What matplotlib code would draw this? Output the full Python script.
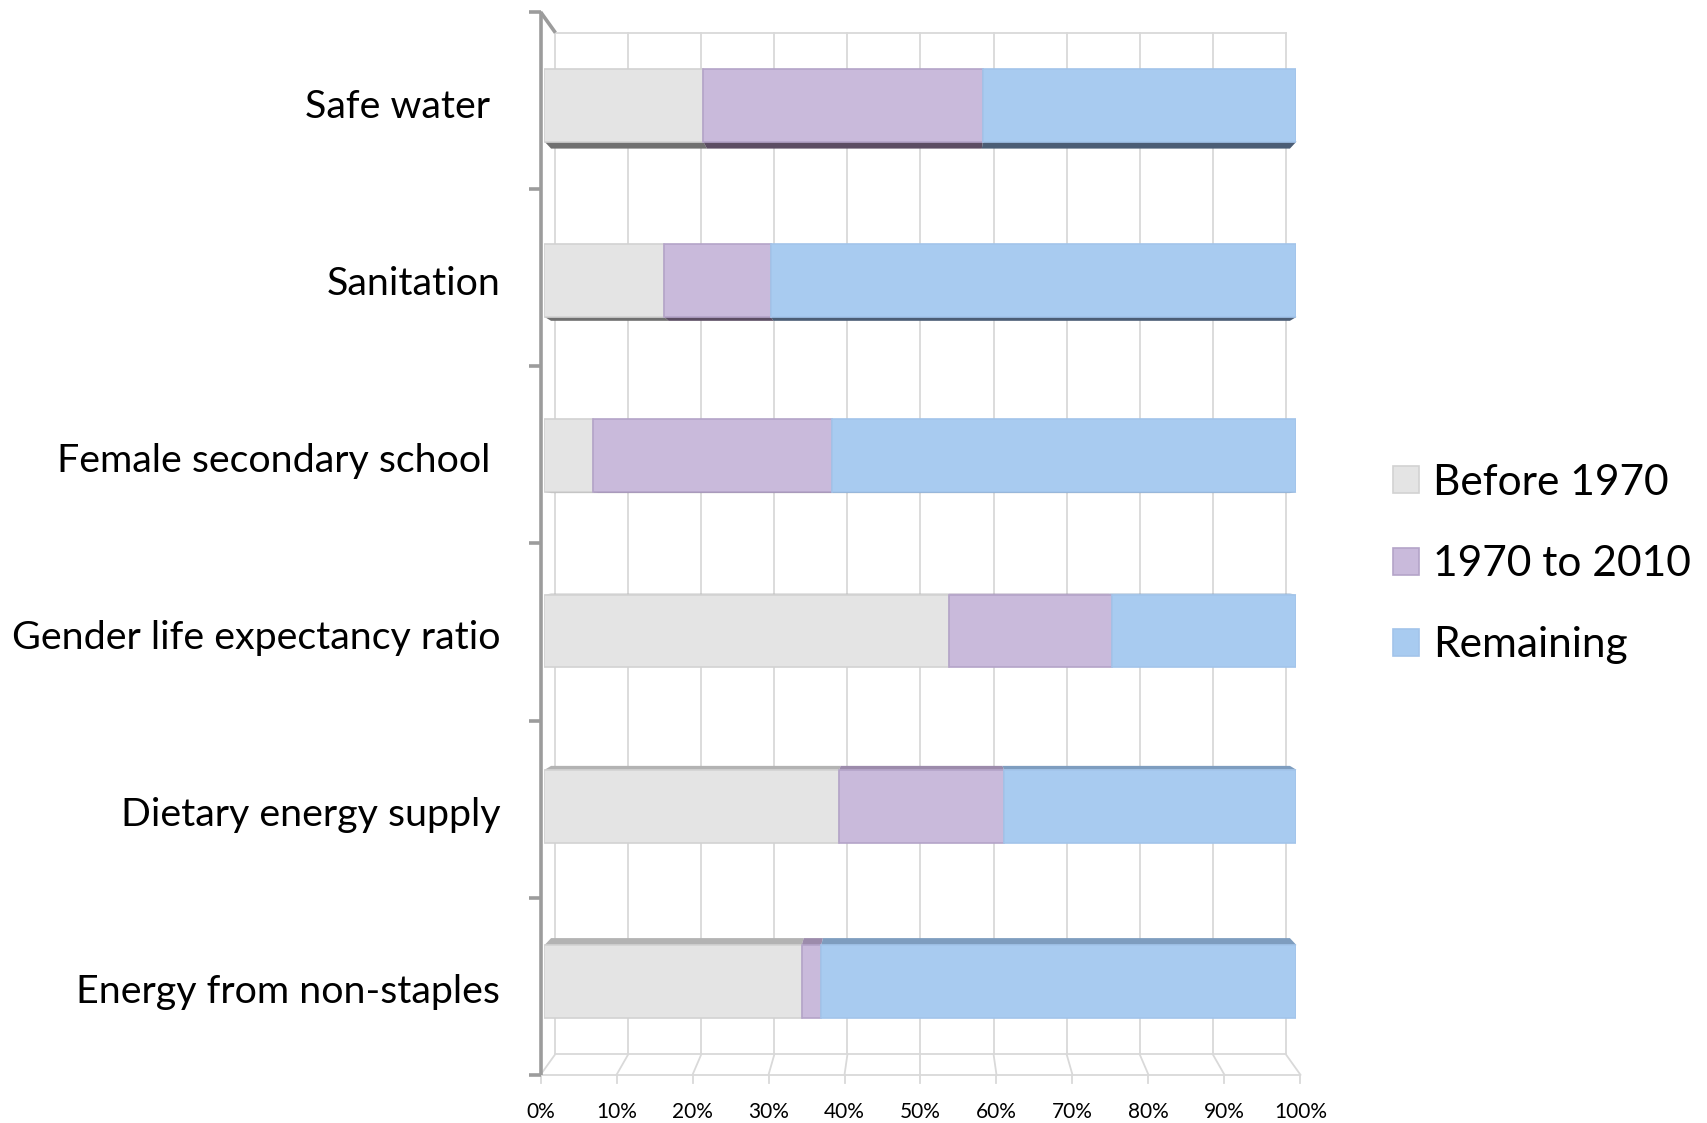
import matplotlib
matplotlib.use("Agg")
import matplotlib.pyplot as plt
from matplotlib.patches import Polygon
import numpy as np

# progress on each indicator, in percent of the full range
categories = ["Safe water ", "Sanitation", "Female secondary school ",
              "Gender life expectancy ratio", "Dietary energy supply",
              "Energy from non-staples"]
before_1970 = [21.1, 15.9, 6.4, 53.8, 39.2, 34.2]
from_1970_to_2010 = [37.2, 14.2, 31.8, 21.7, 21.9, 2.6]
remaining = [41.7, 69.9, 61.8, 24.5, 38.9, 63.2]
series_names = ["Before 1970", "1970 to 2010", "Remaining"]
xtick_values = list(range(0, 101, 10))

face_colors = ["#e4e4e4", "#c9badb", "#a8cbf0"]
edge_colors = ["#d2d2d2", "#b4a4c8", "#a2c4ea"]
under_colors = ["#707070", "#5c4d63", "#4b5d75"]   # bar bottoms seen from below
top_colors = ["#b3b3b3", "#9c8bab", "#7e9dbf"]     # bar tops seen from above

W, H = 1708, 1123
fig = plt.figure(figsize=(W / 100, H / 100), dpi=100)
plt.rcParams["font.family"] = ["Lato", "DejaVu Sans"]

# pixel layout of the front plane of the bars
x0_px, x100_px = 544.5, 1296.5
row0_px, row_step = 105.1, 175.3
ax = fig.add_axes([x0_px / W, 0, (x100_px - x0_px) / W, 1])
ax.set_xlim(0, 100)
ax.set_ylim((H - row0_px) / row_step, -row0_px / row_step)
ax.axis("off")

# simple perspective: depth scale s shrinks everything towards the centre
CX, CY = 50.0, 2.5
S_FRONT, S_BACK, S_BAR_BACK = 1.0106, 0.971, 0.9825


def proj(x, y, s):
    return CX + (np.asarray(x, float) - CX) * s, CY + (np.asarray(y, float) - CY) * s


n = len(categories)
ypos = np.arange(n)
bar_h = 0.416
y_top, y_bot = -0.5, n - 0.5

# back wall gridlines and floor
grid_kw = dict(color="#d9d9d9", lw=1.3, clip_on=False, zorder=0)
for xv in xtick_values:
    gx, gy = proj([xv, xv], [y_top, y_bot], S_BACK)
    ax.plot(gx, gy, **grid_kw)
    fx, fy = proj([xv, xv], [y_bot, y_bot], [S_BACK, S_FRONT])
    ax.plot(fx, fy, **grid_kw)
    tx, ty = proj(xv, y_bot, S_FRONT)
    ax.plot([tx, tx], [ty, ty + 0.045], **grid_kw)
    ax.text(tx, ty + 0.21, f"{xv}%", ha="center", va="center", fontsize=15)
for yv in (y_top, y_bot):
    bx, by = proj([0, 100], [yv, yv], S_BACK)
    ax.plot(bx, by, **grid_kw)
fx, fy = proj([0, 100], [y_bot, y_bot], S_FRONT)
ax.plot(fx, fy, **grid_kw)

# left axis with category dividers
axis_kw = dict(color="#9c9c9c", lw=2.6, clip_on=False, zorder=1, solid_capstyle="butt")
lx, ly = proj([0, 0], [y_top, y_bot], S_FRONT)
ax.plot(lx, ly, **axis_kw)
dx, dy = proj([0, 0], [y_top, y_top], [S_FRONT, S_BACK])
ax.plot(dx, dy, **axis_kw)
for b in np.arange(n + 1) - 0.5:
    px, py = proj(0, b, S_FRONT)
    ax.plot([px - 1.5, px], [py, py], **axis_kw)

# stacked bars
series = [before_1970, from_1970_to_2010, remaining]
lefts = np.zeros(n)
handles = []
for vals, name, fc, ec, uc, tc in zip(series, series_names, face_colors,
                                      edge_colors, under_colors, top_colors):
    vals = np.asarray(vals, float)
    bars = ax.barh(ypos, vals, left=lefts, height=bar_h, color=fc, edgecolor=ec,
                   linewidth=1.2, label=name, zorder=3)
    handles.append(bars)
    # visible depth face of each segment
    for i in range(n):
        a, b = lefts[i], lefts[i] + vals[i]
        if i < CY:
            ye, col = ypos[i] + bar_h / 2, uc
        else:
            ye, col = ypos[i] - bar_h / 2, tc
        bx, by = proj([b, a], [ye, ye], S_BAR_BACK)
        poly = Polygon([(a, ye), (b, ye), (bx[0], by[0]), (bx[1], by[1])],
                       closed=True, facecolor=col, edgecolor="none",
                       zorder=2, clip_on=False)
        ax.add_patch(poly)
    lefts = lefts + vals

# category labels sit on the front plane of the chart box
for i, name in enumerate(categories):
    _, ly = proj(0, ypos[i], S_FRONT)
    ax.text(-5.9, ly + 0.035, name, ha="right", va="center", fontsize=28.4)

fig.legend(handles=handles, labels=series_names, loc="center left",
           bbox_to_anchor=(1372 / W, 1 - 564 / H), frameon=False, fontsize=30.6,
           handlelength=0.6, handleheight=0.6, handletextpad=0.33,
           labelspacing=1.02, borderpad=0)

fig.savefig("out.png", dpi=100)
